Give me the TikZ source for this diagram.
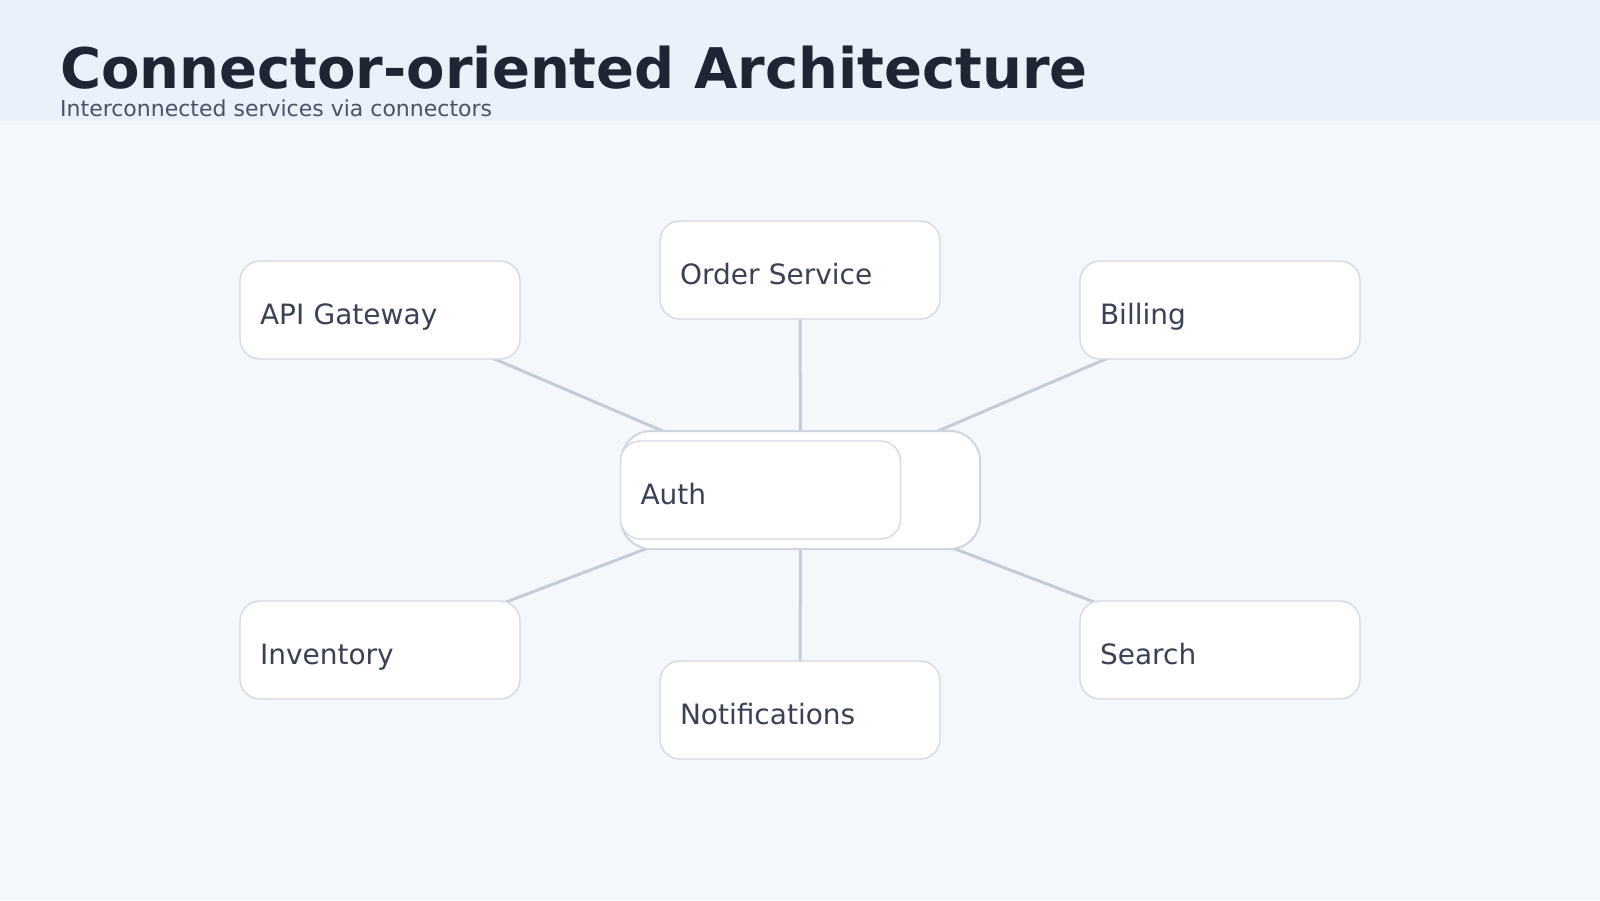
\documentclass[tikz,border=0pt]{standalone}
\usepackage{fontspec}
\setmainfont{DejaVu Sans}
\definecolor{pagebg}{HTML}{F4F8FC}
\definecolor{headbg}{HTML}{EAF1FA}
\definecolor{titlecol}{HTML}{1E2533}
\definecolor{subcol}{HTML}{4A5263}
\definecolor{boxline}{HTML}{D3D9E3}
\definecolor{outerline}{HTML}{D0D6E0}
\definecolor{connline}{HTML}{C4CCDA}
\definecolor{boxtext}{HTML}{3A4154}
\pgfdeclarelayer{bg}
\pgfdeclarelayer{lines}
\pgfsetlayers{bg,lines,main}
\tikzset{
  svcbox/.style={draw=boxline, line width=1.4pt, fill=white, rounded corners=20pt,
    minimum width=280pt, minimum height=98pt, inner xsep=20pt, inner ysep=0pt,
    text width=240pt, align=left, text height=28pt, text depth=0pt,
    text=boxtext, font=\fontsize{28}{32}\selectfont},
  outerbox/.style={draw=outerline, line width=2pt, fill=white, rounded corners=30pt,
    minimum width=359pt, minimum height=118pt, inner sep=0pt},
  conn/.style={draw=connline, line width=3pt}
}
\begin{document}
\begin{tikzpicture}[x=1pt,y=-1pt]
\useasboundingbox (0,0) rectangle (1600,900);
\begin{pgfonlayer}{bg}
  \fill[pagebg] (0,0) rectangle (1600,900);
  \fill[headbg] (0,0) rectangle (1600,121);
\end{pgfonlayer}
\node[anchor=base west, inner sep=0pt, text=titlecol, font=\fontsize{56}{60}\selectfont\bfseries] (title) at (60,88) {Connector-oriented Architecture};
\node[anchor=base west, inner sep=0pt, text=subcol, font=\fontsize{22}{26}\selectfont] (subtitle) at (60,116) {Interconnected services via connectors};

\node[outerbox] (auth) at (800.5,490) {};
\node[svcbox] (authcore) at (760.5,490) {Auth};
\node[svcbox] (api) at (380,310) {API Gateway};
\node[svcbox] (order) at (800,270) {Order Service};
\node[svcbox] (billing) at (1220,310) {Billing};
\node[svcbox] (inventory) at (380,650) {Inventory};
\node[svcbox] (notif) at (800,710) {Notifications};
\node[svcbox] (search) at (1220,650) {Search};

\begin{pgfonlayer}{lines}
  \draw[conn] (api.center) -- (auth.center);
  \draw[conn] (order.center) -- (auth.center);
  \draw[conn] (billing.center) -- (auth.center);
  \draw[conn] (inventory.center) -- (auth.center);
  \draw[conn] (notif.center) -- (auth.center);
  \draw[conn] (search.center) -- (auth.center);
\end{pgfonlayer}
\end{tikzpicture}
\end{document}
